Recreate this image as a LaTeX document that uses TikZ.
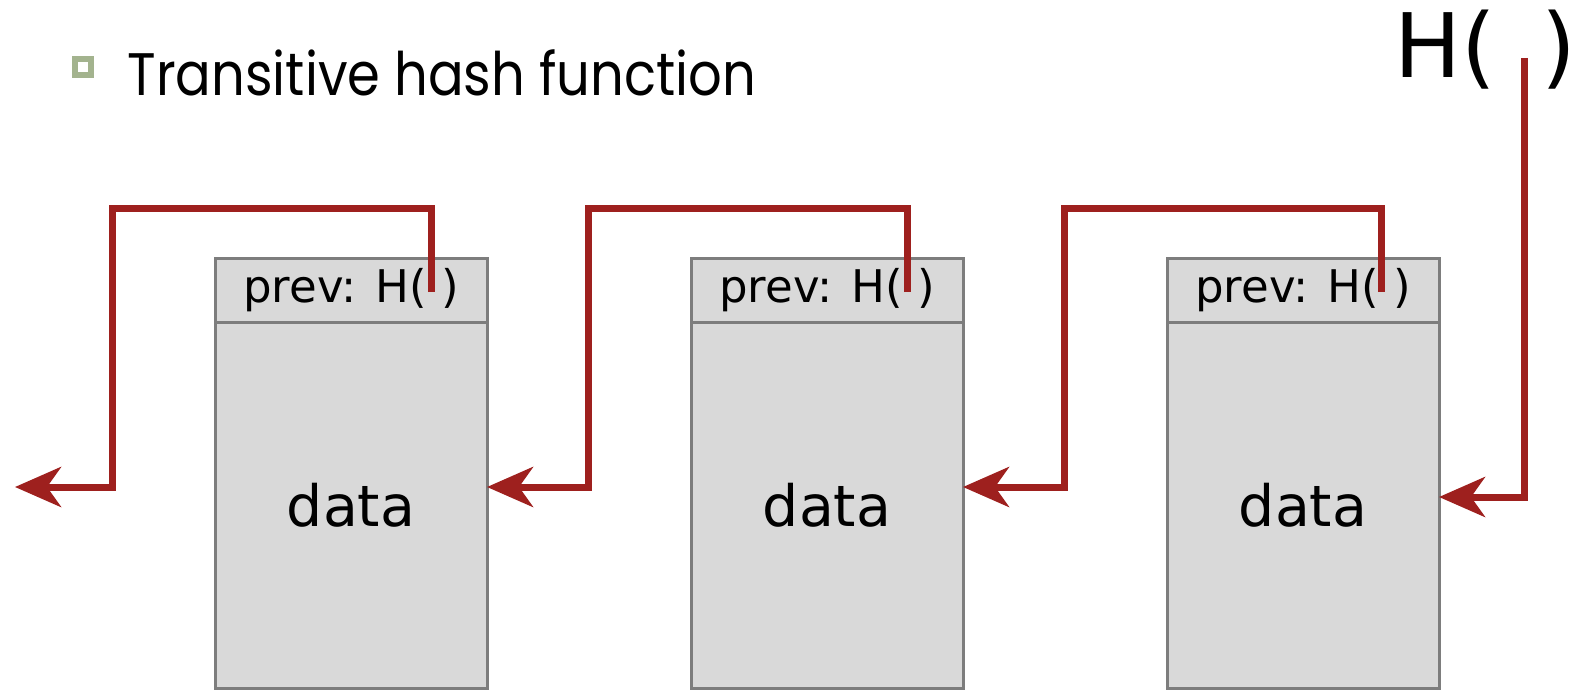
\documentclass[tikz,border=0pt]{standalone}
\usepackage{fontspec}
\setmainfont{DejaVu Sans}
\newfontfamily\titlefont[FakeStretch=0.88]{Poppins}
\usepackage{xcolor}
\usetikzlibrary{calc,positioning,arrows.meta}
\definecolor{linkred}{RGB}{158, 32, 30}
\definecolor{blockgray}{RGB}{217, 217, 217}
\definecolor{edgegray}{RGB}{125, 125, 125}
\definecolor{bulletgreen}{RGB}{163, 179, 142}

\tikzset{
  hdr/.style={draw=edgegray, line width=3pt, fill=blockgray, outer sep=0pt, inner sep=0pt,
    minimum width=272pt, minimum height=64pt, font=\fontsize{45}{48}\selectfont},
  body/.style={draw=edgegray, line width=3pt, fill=blockgray, outer sep=0pt, inner sep=0pt,
    minimum width=272pt, minimum height=366pt, font=\fontsize{57}{60}\selectfont},
  link/.style={draw=linkred, line width=7pt, -{Stealth[length=46pt, width=40pt, inset=14pt]}},
  bulletbox/.style={draw=bulletgreen, line width=6.5pt, fill=white, minimum size=16pt, inner sep=0pt}
}

\begin{document}
\begin{tikzpicture}[x=1pt, y=-1pt]
\useasboundingbox (0,0) rectangle (1575,690);

% heading line
\node[bulletbox] (bul) at (83,67) {};
\node[anchor=base west, font=\titlefont\fontsize{60}{62}\selectfont] (title) at (124,96) {Transitive hash function};

% the three blocks
\node[hdr] (h1) at (351,290) {prev: H( )};
\node[body, below=0pt of h1] (d1) {data};
\node[hdr] (h2) at (827,290) {prev: H( )};
\node[body, below=0pt of h2] (d2) {data};
\node[hdr] (h3) at (1303,290) {prev: H( )};
\node[body, below=0pt of h3] (d3) {data};

% hash of the newest block
\node[anchor=base west, font=\fontsize{89}{92}\selectfont] (hh) at (1391,78) {H(};
\node[anchor=base west, font=\fontsize{89}{92}\selectfont] (hc) at (1538,78) {)};

% where the pointers start and end
\coordinate (s1) at ($(h1.center)+(80,2)$);
\coordinate (s2) at ($(h2.center)+(80,2)$);
\coordinate (s3) at ($(h3.center)+(78,2)$);
\coordinate (hs) at (1524,58);
\coordinate (k1) at ($(h1.north west)+(-103,-50)$);
\coordinate (k2) at ($(h2.north west)+(-103,-50)$);
\coordinate (k3) at ($(h3.north west)+(-103,-50)$);
\coordinate (t0) at (15,487);
\coordinate (t1) at ($(d1.east)+(0,-18)$);
\coordinate (t2) at ($(d2.east)+(0,-18)$);
\coordinate (t3) at ($(d3.east)+(0,-8)$);

% hash pointers
\draw[link] (s1) |- (k1) |- (t0);
\draw[link] (s2) |- (k2) |- (t1);
\draw[link] (s3) |- (k3) |- (t2);
\draw[link] (hs) |- (t3);
\end{tikzpicture}
\end{document}
